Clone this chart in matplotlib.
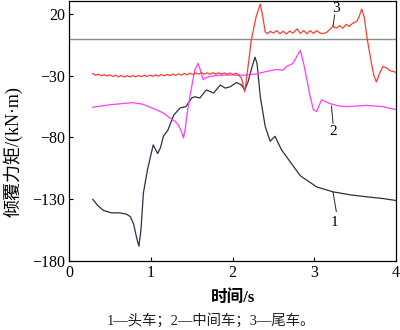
import matplotlib
matplotlib.use("Agg")
import matplotlib.pyplot as plt

plt.rcParams['font.family'] = ['Liberation Serif', 'Noto Sans CJK SC']

# 1 - head car
t1 = [0.29, 0.35, 0.42, 0.52, 0.62, 0.70, 0.75, 0.79, 0.83, 0.855, 0.88, 0.91,
      0.96, 1.03, 1.085, 1.12, 1.155, 1.21, 1.28, 1.36, 1.43, 1.50, 1.54, 1.60,
      1.68, 1.77, 1.85, 1.91, 1.97, 2.05, 2.11, 2.15, 2.19, 2.23, 2.275, 2.30,
      2.34, 2.40, 2.46, 2.52, 2.60, 2.72, 2.83, 3.03, 3.23, 3.45, 3.64, 3.85, 4.0]
v1 = [-130, -135, -139, -141, -141, -142, -144, -150, -162, -168, -155, -125,
      -106, -86, -93, -88, -79, -74, -62, -56, -55, -48, -47, -48,
      -41.5, -44, -37.5, -40, -39, -35.5, -37.5, -41.5, -35, -25, -15, -20,
      -47, -71, -83, -79, -90, -101, -111, -120, -124, -126.5, -128, -129.5, -131]

# 2 - middle car
t2 = [0.29, 0.50, 0.77, 0.90, 1.03, 1.15, 1.24, 1.30, 1.34, 1.38, 1.40, 1.42,
      1.44, 1.47, 1.50, 1.54, 1.58, 1.61, 1.64, 1.70, 1.78, 1.85, 1.97, 2.10,
      2.17, 2.29, 2.42, 2.54, 2.62, 2.66, 2.74, 2.79, 2.83, 2.87, 2.91, 2.95,
      2.99, 3.03, 3.06, 3.09, 3.14, 3.19, 3.30, 3.40, 3.64, 3.84, 4.0]
v2 = [-55.5, -53.5, -51.8, -53, -56.5, -60, -64.5, -67, -70, -76, -80.5, -74,
      -63, -50, -39, -25, -20, -26, -33, -31, -30, -29.5, -29.5, -29.5,
      -29.5, -28.5, -26.5, -25, -25.5, -22.5, -20, -14, -9.5, -20, -33, -47,
      -57.5, -59, -54, -49.5, -51, -52.5, -54.5, -55, -54, -55, -57.5]

# 3 - tail car
t3 = [0.29, 0.325, 0.36, 0.395, 0.43, 0.465, 0.50, 0.535, 0.57, 0.605, 0.64,
      0.675, 0.71, 0.745, 0.78, 0.815, 0.85, 0.885, 0.92, 0.955, 0.99, 1.025,
      1.06, 1.095, 1.13, 1.165, 1.20, 1.235, 1.27, 1.305, 1.34, 1.375, 1.41,
      1.445, 1.48, 1.515, 1.55, 1.585, 1.62, 1.655, 1.69, 1.725, 1.76, 1.795,
      1.83, 1.865, 1.90, 1.935, 1.97, 2.005, 2.04, 2.075,
      2.11, 2.15, 2.19, 2.23, 2.29, 2.34, 2.37, 2.40, 2.43, 2.46, 2.50, 2.54,
      2.58, 2.62, 2.66, 2.70, 2.74, 2.79, 2.83, 2.87, 2.91, 2.95, 2.99, 3.03,
      3.07, 3.11, 3.15, 3.19, 3.23, 3.27, 3.31, 3.35, 3.39, 3.43, 3.47, 3.52,
      3.55, 3.58, 3.61, 3.65, 3.70, 3.73, 3.76, 3.80, 3.84, 3.88, 3.93, 3.97, 4.0]
v3 = [-28.2, -29.6, -28.7, -30.0, -29.0, -30.3, -29.3, -30.6, -29.6, -30.9, -29.8,
      -31.1, -30.0, -31.0, -29.9, -30.9, -29.8, -30.8, -29.6, -30.6, -29.5, -30.5,
      -29.3, -30.3, -29.1, -30.1, -28.9, -29.9, -28.7, -29.7, -28.5, -29.5, -28.2,
      -29.2, -27.9, -29.0, -27.6, -28.8, -27.5, -28.7, -27.6, -28.8, -27.5, -28.7,
      -27.6, -28.8, -27.7, -28.9, -27.8, -29.0, -28.0, -29.5,
      -32, -43, -22.7, -1, 18, 28, 18, 5.5, 4, 6, 4.5, 6.5,
      4, 6, 3.8, 6.2, 4.5, 8, 4.2, 6.5, 4, 6.5, 4.2, 6.5,
      4.5, 4.2, 5, 7.5, 10, 8.5, 10.5, 8.5, 11.5, 10, 12.5, 14,
      18, 24, 18, -1, -20, -30, -35, -28, -22.5, -23.5, -26, -26.5, -27.5]

fig = plt.figure(figsize=(4.0, 3.3), dpi=100)
ax = fig.add_axes([0.1725, 0.209, 0.8175, 0.788])

ax.axhline(0, color='#8c8c8c', lw=1.0)
ax.plot(t1, v1, color='#2e2e48', lw=0.9)
ax.plot(t2, v2, color='#ff3cff', lw=0.9)
ax.plot(t3, v3, color='#ff3a30', lw=0.9)

# curve labels with leader lines
ax.plot([3.23, 3.27], [-124.4, -140], color='#222222', lw=0.7)
ax.text(3.25, -149, '1', fontsize=11, ha='center', va='center')
ax.plot([3.21, 3.23], [-54.5, -68.5], color='#222222', lw=0.7)
ax.text(3.23, -75, '2', fontsize=11, ha='center', va='center')
ax.plot([3.23, 3.25], [10.3, 19.2], color='#222222', lw=0.7)
ax.text(3.27, 24.5, '3', fontsize=11, ha='center', va='center')

ax.set_xlim(0, 4)
ax.set_ylim(-180, 30.5)
ax.set_xticks([0, 1, 2, 3, 4])
ax.set_yticks([20, -30, -80, -130, -180])
ax.set_yticklabels(['20', '\u221230', '\u221280', '\u2212130', '\u2212180'])
ax.tick_params(direction='in', length=3, width=0.8, labelsize=11.5, pad=3)
for s in ax.spines.values():
    s.set_linewidth(0.9)

ax.set_xlabel('时间/s', fontsize=12, fontweight='bold', labelpad=6)
ax.set_ylabel('倾覆力矩/(kN·m)', fontsize=13, va='center')
ax.yaxis.set_label_coords(-0.172, 0.42)

fig.text(0.526, 0.03, '1—头车；2—中间车；3—尾车。', fontsize=10.4,
         ha='center', va='center', color='#222222')

fig.savefig('out.png', dpi=100)
